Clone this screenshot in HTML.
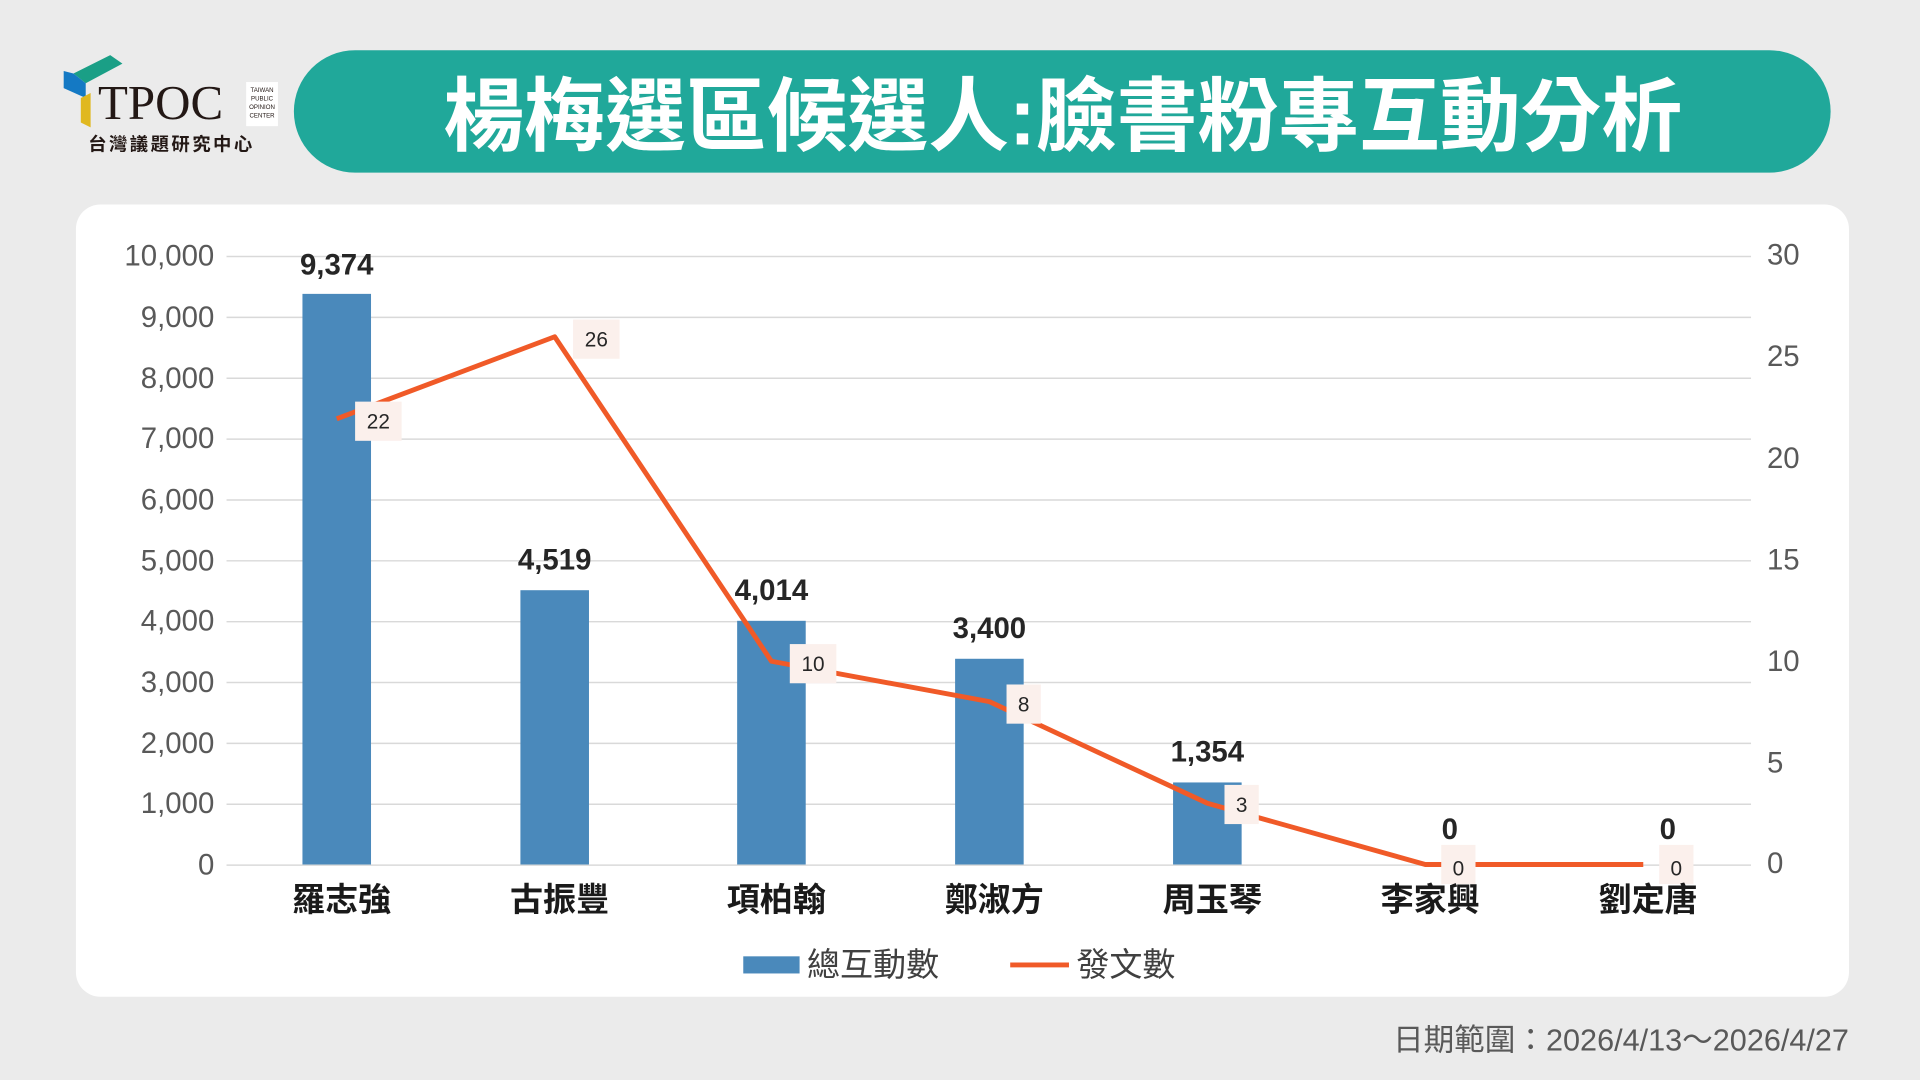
<!DOCTYPE html>
<html><head><meta charset="utf-8"><style>
html,body{margin:0;padding:0;background:#ebebeb;}
svg{display:block;}
text{font-family:"Liberation Sans","Noto Sans CJK TC",sans-serif;}
</style></head><body>
<svg width="1920" height="1080" viewBox="0 0 1568 882" xmlns="http://www.w3.org/2000/svg">
<rect width="1568" height="882" fill="#ebebeb"/>
<!-- logo -->
<polygon points="60,60 90,45 100,52 70,68" fill="#1a9f86"/>
<polygon points="52,58 60,60 70,68 70,80 52,72" fill="#1479c4"/>
<polygon points="66,80 74,76 74,104 66,100" fill="#e0b820"/>
<text x="80" y="97" font-family="Liberation Serif,serif" font-size="40" fill="#231815" style="font-family:'Liberation Serif',serif">TPOC</text>
<rect x="201" y="67" width="26" height="36" fill="#fff"/>
<text x="214" y="75" font-size="5" text-anchor="middle" fill="#231815">TAIWAN</text>
<text x="214" y="82" font-size="5" text-anchor="middle" fill="#231815">PUBLIC</text>
<text x="214" y="89" font-size="5" text-anchor="middle" fill="#231815">OPINION</text>
<text x="214" y="96" font-size="5" text-anchor="middle" fill="#231815">CENTER</text>
<text x="140" y="123" font-size="15" font-weight="bold" text-anchor="middle" fill="#231815" letter-spacing="2">台灣議題研究中心</text>
<!-- title -->
<rect x="240" y="41" width="1255" height="100" rx="50" fill="#20a89a"/>
<text x="868" y="118" font-size="66" font-weight="bold" text-anchor="middle" fill="#fff">楊梅選區候選人:臉書粉專互動分析</text>
<!-- card -->
<rect x="62" y="167" width="1448" height="647" rx="20" fill="#fff"/>
<g stroke="#d9d9d9" stroke-width="1.2">
<line x1="185" x2="1430" y1="209.5" y2="209.5"/><line x1="185" x2="1430" y1="259.2" y2="259.2"/>
<line x1="185" x2="1430" y1="308.9" y2="308.9"/><line x1="185" x2="1430" y1="358.6" y2="358.6"/>
<line x1="185" x2="1430" y1="408.3" y2="408.3"/><line x1="185" x2="1430" y1="458" y2="458"/>
<line x1="185" x2="1430" y1="507.7" y2="507.7"/><line x1="185" x2="1430" y1="557.4" y2="557.4"/>
<line x1="185" x2="1430" y1="607.1" y2="607.1"/><line x1="185" x2="1430" y1="656.8" y2="656.8"/>
<line x1="185" x2="1430" y1="706.5" y2="706.5"/>
</g>
<g font-size="24" fill="#595959" text-anchor="end">
<text x="175" y="217">10,000</text><text x="175" y="267">9,000</text><text x="175" y="317">8,000</text>
<text x="175" y="366">7,000</text><text x="175" y="416">6,000</text><text x="175" y="466">5,000</text>
<text x="175" y="515">4,000</text><text x="175" y="565">3,000</text><text x="175" y="615">2,000</text>
<text x="175" y="664">1,000</text><text x="175" y="714">0</text>
</g>
<g font-size="24" fill="#595959">
<text x="1443" y="216">30</text><text x="1443" y="299">25</text><text x="1443" y="382">20</text>
<text x="1443" y="465">15</text><text x="1443" y="548">10</text><text x="1443" y="631">5</text><text x="1443" y="713">0</text>
</g>
<g fill="#4a89bb">
<rect x="247" y="240" width="56" height="466"/>
<rect x="425" y="482" width="56" height="224"/>
<rect x="602" y="507" width="56" height="199"/>
<rect x="780" y="538" width="56" height="168"/>
<rect x="958" y="639" width="56" height="67"/>
</g>
<g font-size="24" font-weight="bold" fill="#262626" text-anchor="middle">
<text x="275" y="224">9,374</text><text x="453" y="465">4,519</text><text x="630" y="490">4,014</text>
<text x="808" y="521">3,400</text><text x="986" y="622">1,354</text><text x="1184" y="685">0</text><text x="1362" y="685">0</text>
</g>
<polyline points="275,342 453,275 630,540 808,573 986,656 1164,706 1342,706" fill="none" stroke="#f05a28" stroke-width="4" stroke-linejoin="round"/>
<g fill="#fbf0ec">
<rect x="290" y="328" width="38" height="32"/><rect x="468" y="261" width="38" height="32"/>
<rect x="645" y="526" width="38" height="32"/><rect x="822" y="559" width="28" height="32"/>
<rect x="1000" y="641" width="28" height="32"/><rect x="1177" y="690" width="28" height="32"/>
<rect x="1355" y="690" width="28" height="32"/>
</g>
<g font-size="17" fill="#262626" text-anchor="middle">
<text x="309" y="350">22</text><text x="487" y="283">26</text><text x="664" y="548">10</text>
<text x="836" y="581">8</text><text x="1014" y="663">3</text><text x="1191" y="715">0</text><text x="1369" y="715">0</text>
</g>
<g font-size="27" font-weight="bold" fill="#1a1a1a" text-anchor="middle">
<text x="279" y="744">羅志強</text><text x="457" y="744">古振豐</text><text x="634" y="744">項柏翰</text>
<text x="812" y="744">鄭淑方</text><text x="990" y="744">周玉琴</text><text x="1168" y="744">李家興</text><text x="1346" y="744">劉定唐</text>
</g>
<rect x="607" y="781" width="46" height="14" fill="#4a89bb"/>
<text x="659" y="797" font-size="27" fill="#404040">總互動數</text>
<line x1="825" x2="873" y1="788" y2="788" stroke="#f05a28" stroke-width="4"/>
<text x="879" y="797" font-size="27" fill="#404040">發文數</text>
<text x="1510" y="858" font-size="25" fill="#595959" text-anchor="end">日期範圍：2026/4/13～2026/4/27</text>
</svg>
</body></html>
